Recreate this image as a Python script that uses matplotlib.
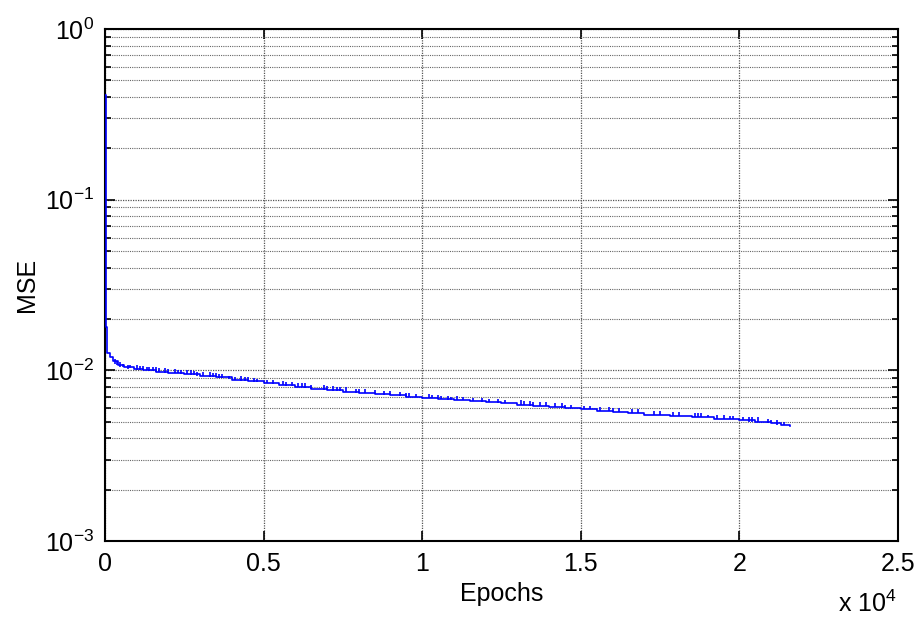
import numpy as np
import matplotlib
matplotlib.use("Agg")
import matplotlib.pyplot as plt
from matplotlib.ticker import LogLocator, FixedLocator, FuncFormatter

plt.rcParams['font.family'] = ['Liberation Sans', 'DejaVu Sans']
plt.rcParams['mathtext.fontset'] = 'custom'
plt.rcParams['mathtext.rm'] = 'Liberation Sans'

# training curve, stepped baseline
epochs = [0, 25, 60, 150, 250, 400, 600, 900, 1200, 1600, 2000, 2500, 3000,
          3500, 4000, 4500, 5000, 5500, 6000, 6500, 7000, 7500, 8000, 8500,
          9000, 9500, 10000, 10500, 11000, 11500, 12000, 12500, 13000, 13500,
          14000, 14500, 15000, 15500, 16000, 16500, 17000, 17800, 18500,
          19200, 20000, 20500, 21000, 21300, 21600]
mse = [0.41, 0.018, 0.0127, 0.0120, 0.0113, 0.0107, 0.0104, 0.0102, 0.0100,
       0.0098, 0.0097, 0.0095, 0.0093, 0.0091, 0.0088, 0.0086, 0.0084,
       0.0082, 0.0080, 0.0078, 0.0077, 0.0075, 0.0074, 0.0073, 0.0072,
       0.0070, 0.0069, 0.0068, 0.0067, 0.0066, 0.0065, 0.0064, 0.0063,
       0.0062, 0.0061, 0.0060, 0.0059, 0.0058, 0.0057, 0.0056, 0.0055,
       0.0054, 0.0053, 0.0052, 0.0051, 0.0050, 0.0049, 0.0048, 0.0047]

# small upward jumps along the curve
spike_epochs = [320, 470, 720, 1010, 1210, 1310, 1620, 1900, 2200, 2300, 2600,
                2700, 3300, 3500, 3700, 4300, 4500, 4700, 5300, 5600, 5900,
                6100, 6300, 6900, 7200, 7600, 7900, 8200, 8800, 9300, 9500,
                10200, 10500, 10800, 11100, 11900, 12400, 13100, 13400, 13700,
                14400, 14700, 15100, 15600, 16000, 16600, 17300, 17900, 18600,
                18800, 19300, 19700, 20300, 20600, 20900, 21200,
                380, 560, 800, 1100, 1400, 1500, 1700, 2000, 2400, 2800, 2900,
                3100, 3400, 3600, 3900, 4100, 4400, 4800, 5100, 5700, 6200,
                6500, 7000, 7300, 7400, 8000, 8500, 9000, 9600, 9800, 10300,
                10600, 10900, 11300, 11600, 12100, 12600, 13200, 13500, 13900,
                14200, 14500, 15300, 15900, 16200, 16800, 17500, 18100, 18700,
                19000, 19500, 19800, 20100, 20400, 21000, 21400]
spike_lo = [0.0109, 0.0105, 0.0102, 0.0101, 0.0100, 0.0100, 0.0098, 0.0097,
            0.0096, 0.0096, 0.0095, 0.0094, 0.0092, 0.0091, 0.0090, 0.0087,
            0.0086, 0.0085, 0.0083, 0.0082, 0.0081, 0.0080, 0.0079, 0.0077,
            0.0076, 0.0075, 0.0074, 0.0074, 0.0072, 0.0071, 0.0070, 0.0069,
            0.0068, 0.0067, 0.0067, 0.0065, 0.0064, 0.0063, 0.0062, 0.0062,
            0.0060, 0.0060, 0.0059, 0.0058, 0.0057, 0.0056, 0.0055, 0.0054,
            0.0053, 0.0053, 0.0052, 0.0052, 0.0050, 0.0050, 0.0049, 0.0048,
            0.0108, 0.0104, 0.0103, 0.0101, 0.0099, 0.0099, 0.0098, 0.0097,
            0.0095, 0.0094, 0.0093, 0.0093, 0.0091, 0.0090, 0.0089, 0.0088,
            0.0087, 0.0085, 0.0084, 0.0081, 0.0080, 0.0078, 0.0077, 0.0076,
            0.0076, 0.0074, 0.0073, 0.0072, 0.0070, 0.0070, 0.0069, 0.0068,
            0.0067, 0.0067, 0.0066, 0.0065, 0.0064, 0.0063, 0.0062, 0.0062,
            0.0061, 0.0060, 0.0059, 0.0058, 0.0057, 0.0056, 0.0055, 0.0054,
            0.0053, 0.0053, 0.0052, 0.0052, 0.0051, 0.0050, 0.0049, 0.0048]
spike_hi = [0.0116, 0.0112, 0.0108, 0.0107, 0.0106, 0.0105, 0.0104, 0.0103,
            0.0102, 0.0101, 0.0100, 0.0100, 0.0098, 0.0097, 0.0095, 0.0093,
            0.0091, 0.0090, 0.0088, 0.0086, 0.0085, 0.0084, 0.0084, 0.0082,
            0.0081, 0.0080, 0.0078, 0.0078, 0.0076, 0.0075, 0.0074, 0.0073,
            0.0072, 0.0071, 0.0071, 0.0069, 0.0068, 0.0067, 0.0066, 0.0065,
            0.0064, 0.0063, 0.0062, 0.0061, 0.0060, 0.0059, 0.0058, 0.0057,
            0.0056, 0.0056, 0.0055, 0.0054, 0.0053, 0.0053, 0.0052, 0.0051,
            0.0113, 0.0109, 0.0108, 0.0106, 0.0104, 0.0104, 0.0103, 0.0102,
            0.0100, 0.0099, 0.0098, 0.0098, 0.0096, 0.0095, 0.0093, 0.0092,
            0.0091, 0.0089, 0.0088, 0.0085, 0.0084, 0.0082, 0.0081, 0.0080,
            0.0080, 0.0078, 0.0077, 0.0076, 0.0074, 0.0073, 0.0072, 0.0071,
            0.0070, 0.0070, 0.0069, 0.0068, 0.0067, 0.0066, 0.0065, 0.0065,
            0.0064, 0.0063, 0.0062, 0.0061, 0.0060, 0.0059, 0.0058, 0.0057,
            0.0056, 0.0055, 0.0055, 0.0054, 0.0053, 0.0053, 0.0051, 0.0050]

x_ticks = [0, 5000, 10000, 15000, 20000, 25000]
x_labels = ['0', '0.5', '1', '1.5', '2', '2.5']

fig = plt.figure(figsize=(9.21, 6.26), dpi=100)
ax = fig.add_axes([0.114, 0.1358, 0.861, 0.8179])

ax.plot(epochs, mse, color='#0000ff', lw=1.2, drawstyle='steps-post', zorder=3)
ax.vlines(spike_epochs, spike_lo, spike_hi, color='#0000ff', lw=1.2, zorder=3)

ax.set_yscale('log')
ax.set_xlim(0, 25000)
ax.set_ylim(1e-3, 1)

ax.xaxis.set_major_locator(FixedLocator(x_ticks))
ax.set_xticklabels(x_labels)
ax.yaxis.set_major_locator(LogLocator(base=10, numticks=10))
ax.yaxis.set_minor_locator(LogLocator(base=10, subs=np.arange(2, 10), numticks=20))
ax.yaxis.set_major_formatter(FuncFormatter(
    lambda v, p: r'$\mathregular{10^{%d}}$' % int(round(np.log10(v)))))
ax.yaxis.set_minor_formatter(FuncFormatter(lambda v, p: ''))

ax.tick_params(which='both', direction='in', top=True, right=True,
               labelsize=18, width=1.2, color='k')
ax.tick_params(which='major', length=7, pad=8)
ax.tick_params(which='minor', length=4)

ax.grid(True, which='major', axis='both', color='#555555', ls=(0, (1, 1)), lw=0.9)
ax.grid(True, which='minor', axis='y', color='#666666', ls=(0, (1, 1)), lw=0.8)

for s in ax.spines.values():
    s.set_linewidth(1.5)

ax.set_xlabel('Epochs', fontsize=18, labelpad=4)
ax.set_ylabel('MSE', fontsize=18, labelpad=4)
fig.text(0.91, 0.015, r'x $\mathregular{10^{4}}$', fontsize=18, ha='left', va='bottom')

fig.savefig('out.png', dpi=100)
